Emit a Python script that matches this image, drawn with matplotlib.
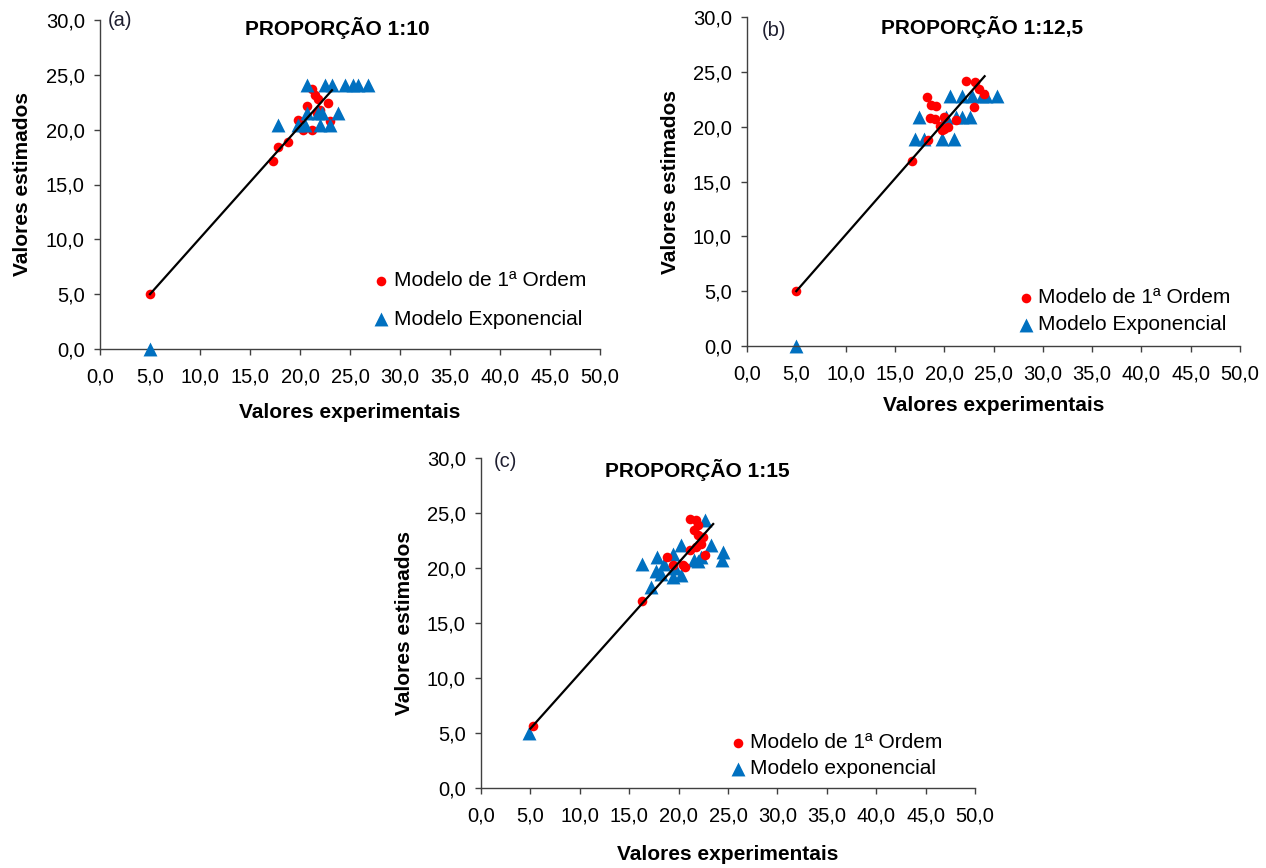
import numpy as np
import matplotlib
matplotlib.use("Agg")
import matplotlib.pyplot as plt

plt.rcParams['font.family'] = ['Liberation Sans', 'DejaVu Sans']

# ---------------- data ----------------
a_red_x = [5.0, 17.3, 17.8, 18.8, 19.8, 20.3, 21.2, 20.7, 21.2, 21.5, 21.8, 22.8, 23.0, 21.7, 22.0]
a_red_y = [5.0, 17.1, 18.4, 18.9, 20.9, 20.0, 20.0, 22.2, 23.7, 23.2, 22.8, 22.4, 20.8, 21.5, 21.8]
a_exp_x = [5.0, 17.8, 19.8, 20.5, 22.0, 23.0, 20.7, 21.8, 22.2, 23.8, 20.7, 22.5, 23.2, 24.5, 25.3, 25.8, 26.8]
a_exp_y = [0.0, 20.4, 20.4, 20.4, 20.4, 20.4, 21.5, 21.5, 21.5, 21.5, 24.1, 24.1, 24.1, 24.1, 24.1, 24.1, 24.1]
a_trend_x = [5.0, 23.2]
a_trend_y = [5.0, 23.6]

b_red_x = [5.0, 16.7, 18.3, 18.7, 19.2, 18.6, 19.1, 18.4, 19.6, 20.0, 20.4, 20.0, 21.2, 22.2, 23.1, 23.5, 24.0, 23.0, 19.8]
b_red_y = [5.0, 16.9, 22.7, 22.0, 21.9, 20.8, 20.7, 18.8, 20.1, 19.8, 20.0, 20.9, 20.6, 24.2, 24.1, 23.4, 23.0, 21.8, 19.7]
b_exp_x = [5.0, 17.0, 18.0, 19.8, 21.0, 17.4, 20.2, 21.2, 21.8, 22.6, 20.6, 21.8, 22.8, 23.8, 24.2, 25.4]
b_exp_y = [0.0, 18.9, 18.9, 18.9, 18.9, 20.9, 20.9, 20.9, 20.9, 20.9, 22.8, 22.8, 22.8, 22.8, 22.8, 22.8]
b_trend_x = [5.0, 24.1]
b_trend_y = [5.0, 24.6]

c_red_x = [5.3, 16.3, 18.8, 19.4, 20.4, 20.6, 21.2, 21.8, 22.0, 21.6, 22.0, 22.5, 21.2, 21.8, 22.3, 22.7]
c_red_y = [5.6, 17.0, 21.0, 20.3, 20.3, 20.1, 24.5, 24.4, 23.9, 23.5, 23.0, 22.8, 21.6, 21.9, 22.2, 21.2]
c_exp_x = [4.9, 16.3, 17.8, 17.7, 17.2, 18.5, 19.4, 19.4, 20.2, 20.2, 21.6, 22.3, 22.0, 22.7, 23.3, 24.5, 24.4, 19.6, 18.2]
c_exp_y = [5.0, 20.4, 21.0, 19.7, 18.3, 20.4, 21.3, 19.2, 22.1, 19.4, 20.7, 21.0, 20.6, 24.4, 22.1, 21.5, 20.7, 20.0, 19.5]
c_trend_x = [5.0, 23.5]
c_trend_y = [5.4, 24.0]

titles = ["PROPORÇÃO 1:10", "PROPORÇÃO 1:12,5", "PROPORÇÃO 1:15"]
panel_tags = ["(a)", "(b)", "(c)"]
leg_red = ["Modelo de 1ª Ordem", "Modelo de 1ª Ordem", "Modelo de 1ª Ordem"]
leg_exp = ["Modelo Exponencial", "Modelo Exponencial", "Modelo exponencial"]
x_ticks = [0, 5, 10, 15, 20, 25, 30, 35, 40, 45, 50]
y_ticks = [0, 5, 10, 15, 20, 25, 30]

RED = "#FF0000"
BLUE = "#0070C0"

W, H = 1266, 868
fig = plt.figure(figsize=(W / 100, H / 100), dpi=100)

def px_axes(left, right, top, bottom):
    return fig.add_axes([left / W, 1 - bottom / H, (right - left) / W, (bottom - top) / H])

axes = [px_axes(100, 600, 20, 349), px_axes(747, 1240, 17, 346), px_axes(481, 975, 458, 788)]
datasets = [(a_red_x, a_red_y, a_exp_x, a_exp_y, a_trend_x, a_trend_y),
            (b_red_x, b_red_y, b_exp_x, b_exp_y, b_trend_x, b_trend_y),
            (c_red_x, c_red_y, c_exp_x, c_exp_y, c_trend_x, c_trend_y)]
blue_on_top = [True, False, False]
title_pos = [(0.474, 0.975), (0.477, 0.97), (0.437, 0.965)]
tag_pos = [(0.016, 1.0), (0.03, 0.96), (0.025, 0.99)]
leg_anchor = [(0.546, 0.149), (0.549, 0.106), (0.503, 0.098)]
leg_spacing = [0.95, 0.38, 0.33]
xlabelpad = [12, 9, 14]
ylabelpad = [10, 9, 9]

for i, ax in enumerate(axes):
    rx, ry, ex, ey, tx, ty = datasets[i]
    zr = 3 if not blue_on_top[i] else 2
    ze = 3 if blue_on_top[i] else 2
    ax.scatter(rx, ry, s=48, c=RED, marker='o', linewidths=0, zorder=zr,
               label=leg_red[i], clip_on=False)
    ax.scatter(ex, ey, s=100, c=BLUE, marker='^', linewidths=0, zorder=ze,
               label=leg_exp[i], clip_on=False)
    ax.plot(tx, ty, color='black', lw=1.6, zorder=4)

    ax.set_xlim(0, 50)
    ax.set_ylim(0, 30)
    ax.set_xticks(x_ticks)
    ax.set_yticks(y_ticks)
    ax.set_xticklabels([f"{v:.1f}".replace('.', ',') for v in x_ticks])
    ax.set_yticklabels([f"{v:.1f}".replace('.', ',') for v in y_ticks])
    for s in ['top', 'right']:
        ax.spines[s].set_visible(False)
    for s in ['left', 'bottom']:
        ax.spines[s].set_color('#404040')
        ax.spines[s].set_linewidth(1.0)
    ax.tick_params(direction='out', length=4, width=1, color='#404040', labelsize=14.5)
    ax.tick_params(axis='x', pad=9)
    ax.tick_params(axis='y', pad=7)
    ax.set_xlabel("Valores experimentais", fontsize=15, fontweight='bold', labelpad=xlabelpad[i])
    ax.set_ylabel("Valores estimados", fontsize=15, fontweight='bold', labelpad=ylabelpad[i])
    ax.text(title_pos[i][0], title_pos[i][1], titles[i], transform=ax.transAxes,
            ha='center', va='center', fontsize=15, fontweight='bold')
    ax.text(tag_pos[i][0], tag_pos[i][1], panel_tags[i], transform=ax.transAxes,
            ha='left', va='center', fontsize=14.5, color='#1F1F30')
    ax.legend(loc='center left', bbox_to_anchor=leg_anchor[i], frameon=False,
              fontsize=15, handlelength=0.8, handletextpad=0.2, borderpad=0,
              borderaxespad=0, labelspacing=leg_spacing[i], scatterpoints=1)

fig.savefig("out.png", dpi=100)
